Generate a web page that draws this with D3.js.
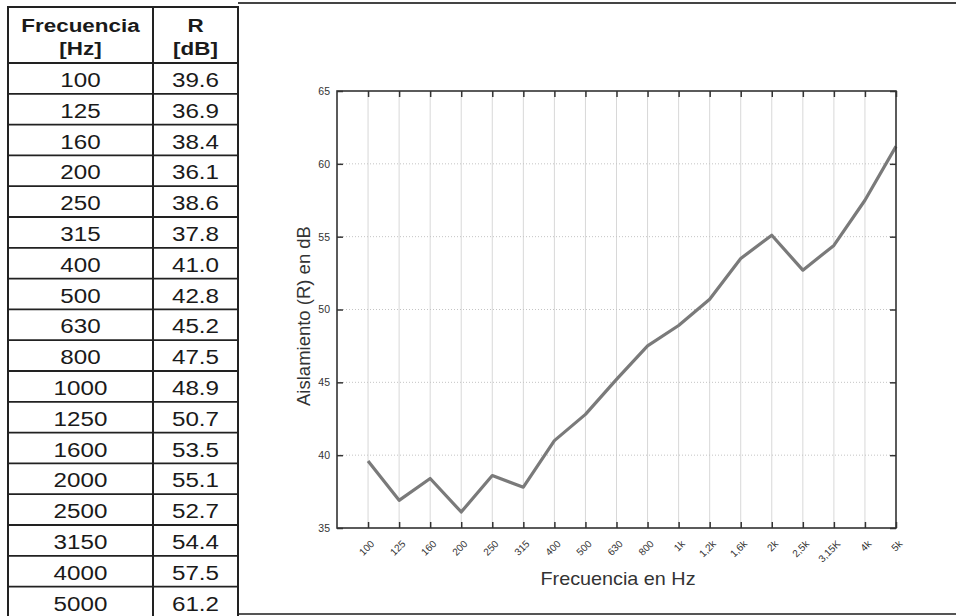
<!DOCTYPE html>
<html>
<head>
<meta charset="utf-8">
<script src="https://cdn.jsdelivr.net/npm/d3@7"></script>
<style>
  html, body { margin: 0; padding: 0; background: #fff; }
  svg { display: block; }
  .tbl text { font-family: "Liberation Sans", Arial, sans-serif; fill: #1a1a1a; }
  .chart text { font-family: "Liberation Sans", Arial, sans-serif; fill: #333; }
</style>
</head>
<body>
<svg id="root" width="956" height="616"></svg>
<script>
// ── data
const freqs   = [100, 125, 160, 200, 250, 315, 400, 500, 630, 800, 1000, 1250, 1600, 2000, 2500, 3150, 4000, 5000];
const rValues = [39.6, 36.9, 38.4, 36.1, 38.6, 37.8, 41.0, 42.8, 45.2, 47.5, 48.9, 50.7, 53.5, 55.1, 52.7, 54.4, 57.5, 61.2];
const xTickLabels = ['100', '125', '160', '200', '250', '315', '400', '500', '630', '800',
                     '1k', '1,2k', '1,6k', '2k', '2,5k', '3,15K', '4k', '5k'];
const yTicks = [35, 40, 45, 50, 55, 60, 65];

const svg = d3.select('#root');

// ── outer frame of the scanned chart
svg.append('line').attr('x1', 238).attr('x2', 956).attr('y1', 3).attr('y2', 3)
  .attr('stroke', '#444').attr('stroke-width', 2);
svg.append('line').attr('x1', 238).attr('x2', 956).attr('y1', 614).attr('y2', 614)
  .attr('stroke', '#555').attr('stroke-width', 2);

// ── table (scan is slightly stretched sideways, hence the x-scale on text)
const tbl = svg.append('g').attr('class', 'tbl');
const colX = [8, 153, 238];
const headTop = 7, headBottom = 63, rowH = 30.8;
const rowY = d3.scaleLinear().domain([0, 1]).range([headBottom, headBottom + rowH]);
const SX = 1.18;

tbl.append('rect').attr('x', colX[0]).attr('y', headTop)
  .attr('width', colX[2] - colX[0]).attr('height', 620 - headTop)
  .attr('fill', '#fff').attr('stroke', '#222').attr('stroke-width', 2);
tbl.append('line').attr('x1', colX[1]).attr('x2', colX[1]).attr('y1', headTop).attr('y2', 620)
  .attr('stroke', '#222').attr('stroke-width', 2);
tbl.selectAll('line.row').data(d3.range(freqs.length + 1))
  .join('line').attr('class', 'row')
  .attr('x1', colX[0]).attr('x2', colX[2])
  .attr('y1', i => rowY(i)).attr('y2', i => rowY(i))
  .attr('stroke', '#222').attr('stroke-width', 1.8);

const head = [['Frecuencia', '[Hz]'], ['R', '[dB]']];
head.forEach((h, c) => {
  const cx = (colX[c] + colX[c + 1]) / 2;
  tbl.append('text').attr('transform', `translate(${cx},32) scale(${SX},1)`)
    .attr('text-anchor', 'middle').attr('font-size', 19).attr('font-weight', 'bold').text(h[0]);
  tbl.append('text').attr('transform', `translate(${cx},55) scale(${SX},1)`)
    .attr('text-anchor', 'middle').attr('font-size', 19).attr('font-weight', 'bold').text(h[1]);
});

tbl.selectAll('text.f').data(freqs).join('text').attr('class', 'f')
  .attr('transform', (d, i) => `translate(${(colX[0] + colX[1]) / 2},${rowY(i) + 24}) scale(${SX},1)`)
  .attr('text-anchor', 'middle').attr('font-size', 20.5).text(d => d);
tbl.selectAll('text.r').data(rValues).join('text').attr('class', 'r')
  .attr('transform', (d, i) => `translate(${(colX[1] + colX[2]) / 2},${rowY(i) + 24}) scale(${SX},1)`)
  .attr('text-anchor', 'middle').attr('font-size', 20.5).text(d => d.toFixed(1));

// ── chart
const L = 337, R = 896, T = 91, B = 528;
const x = d3.scaleLinear().domain([-1, freqs.length - 1]).range([L, R]);
const y = d3.scaleLinear().domain([35, 65]).range([B, T]);
const chart = svg.append('g').attr('class', 'chart');

// vertical grid
chart.selectAll('line.vg').data(d3.range(freqs.length - 1)).join('line').attr('class', 'vg')
  .attr('x1', i => x(i)).attr('x2', i => x(i)).attr('y1', T).attr('y2', B)
  .attr('stroke', '#d8d8d8').attr('stroke-width', 1);
// horizontal grid (dotted)
chart.selectAll('line.hg').data(yTicks.slice(1, -1)).join('line').attr('class', 'hg')
  .attr('x1', L).attr('x2', R).attr('y1', d => y(d)).attr('y2', d => y(d))
  .attr('stroke', '#c4c4c4').attr('stroke-width', 1).attr('stroke-dasharray', '1,2');

// data line
chart.append('path').datum(rValues)
  .attr('d', d3.line().x((d, i) => x(i)).y(d => y(d)))
  .attr('fill', 'none').attr('stroke', '#7a7a7a').attr('stroke-width', 3.2)
  .attr('stroke-linejoin', 'round');

// frame
chart.append('rect').attr('x', L).attr('y', T).attr('width', R - L).attr('height', B - T)
  .attr('fill', 'none').attr('stroke', '#333').attr('stroke-width', 1.6);

// axes
const xAxisB = d3.axisBottom(x).tickValues(d3.range(freqs.length)).tickSize(-6)
  .tickFormat(i => xTickLabels[i]);
const gxb = chart.append('g').attr('transform', `translate(0,${B})`).call(xAxisB);
gxb.select('.domain').remove();
gxb.selectAll('.tick line').attr('stroke', '#333').attr('stroke-width', 1.5);
gxb.selectAll('.tick text')
  .attr('font-size', 10).attr('fill', '#333')
  .attr('text-anchor', 'end')
  .attr('transform', 'translate(4,14) rotate(-45)')
  .attr('dy', '0.35em').attr('y', 0).attr('x', 0);

const xAxisT = d3.axisTop(x).tickValues(d3.range(freqs.length)).tickSize(-6).tickFormat('');
const gxt = chart.append('g').attr('transform', `translate(0,${T})`).call(xAxisT);
gxt.select('.domain').remove();
gxt.selectAll('.tick line').attr('stroke', '#333').attr('stroke-width', 1.5);

const yAxisL = d3.axisLeft(y).tickValues(yTicks).tickSize(-6).tickPadding(7);
const gyl = chart.append('g').attr('transform', `translate(${L},0)`).call(yAxisL);
gyl.select('.domain').remove();
gyl.selectAll('.tick line').attr('stroke', '#333').attr('stroke-width', 1.5);
gyl.selectAll('.tick text').attr('font-size', 10.5).attr('fill', '#444');

const yAxisR = d3.axisRight(y).tickValues(yTicks).tickSize(-6).tickFormat('');
const gyr = chart.append('g').attr('transform', `translate(${R},0)`).call(yAxisR);
gyr.select('.domain').remove();
gyr.selectAll('.tick line').attr('stroke', '#333').attr('stroke-width', 1.5);

// axis titles
chart.append('text').attr('transform', `translate(310,316) rotate(-90)`)
  .attr('text-anchor', 'middle').attr('font-size', 18.5).attr('fill', '#2a2a2a')
  .text('Aislamiento (R) en dB');
chart.append('text').attr('transform', 'translate(618,585) scale(1.1,1)')
  .attr('text-anchor', 'middle').attr('font-size', 18).attr('fill', '#2a2a2a')
  .text('Frecuencia en Hz');
</script>
</body>
</html>
